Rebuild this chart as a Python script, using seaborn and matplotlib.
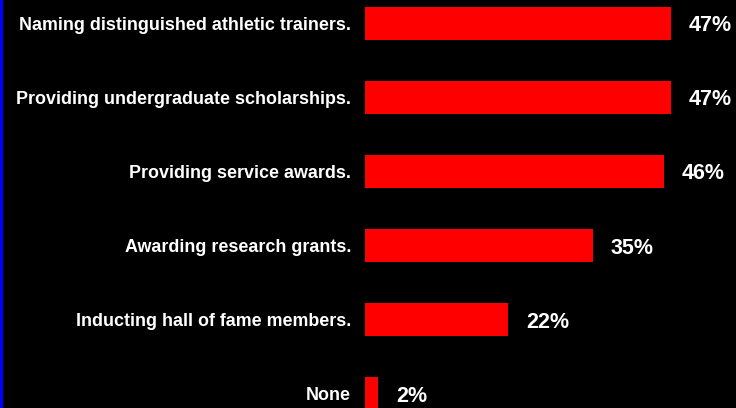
import matplotlib
matplotlib.use("Agg")
import matplotlib.pyplot as plt
import seaborn as sns
import pandas as pd
from matplotlib.patches import Rectangle

categories = [
    "Naming distinguished athletic trainers.",
    "Providing undergraduate scholarships.",
    "Providing service awards.",
    "Awarding research grants.",
    "Inducting hall of fame members.",
    "None",
]
values = [47, 47, 46, 35, 22, 2]
value_labels = ["47%", "47%", "46%", "35%", "22%", "2%"]

df = pd.DataFrame({"category": categories, "value": values})

sns.set_theme(style="white")
plt.rcParams["font.family"] = ["Liberation Sans", "DejaVu Sans"]

fig = plt.figure(figsize=(7.36, 4.08), dpi=100, facecolor="black")
ax = fig.add_axes([365 / 736, 0, 371 / 736, 1])
ax.set_facecolor("black")

sns.barplot(data=df, x="value", y="category", orient="h", color="#ff0000",
            saturation=1, width=0.45, linewidth=0, edgecolor="none", ax=ax)

ax.set_xlim(0, 371 / 6.5)
ax.set_ylim((408 - 23.5) / 74, -23.5 / 74)

for i, (v, lab) in enumerate(zip(values, value_labels)):
    ax.annotate(lab, xy=(v, i), xytext=(18, -2.5), textcoords="offset pixels",
                ha="left", va="center", color="white", fontsize=15.5,
                fontweight="bold")

ax.set_xlabel("")
ax.set_ylabel("")
ax.set_xticks([])
ax.tick_params(axis="y", length=0, pad=10, colors="white")
for t in ax.get_yticklabels():
    t.set_fontsize(12.9)
    t.set_fontweight("bold")
    t.set_color("white")
for s in ax.spines.values():
    s.set_visible(False)

# blue rule along the left edge
fig.add_artist(Rectangle((0, 0), 2.5 / 736, 1, transform=fig.transFigure,
                         facecolor="#0000ff", edgecolor="none"))

fig.savefig("out.png", dpi=100, facecolor="black")
